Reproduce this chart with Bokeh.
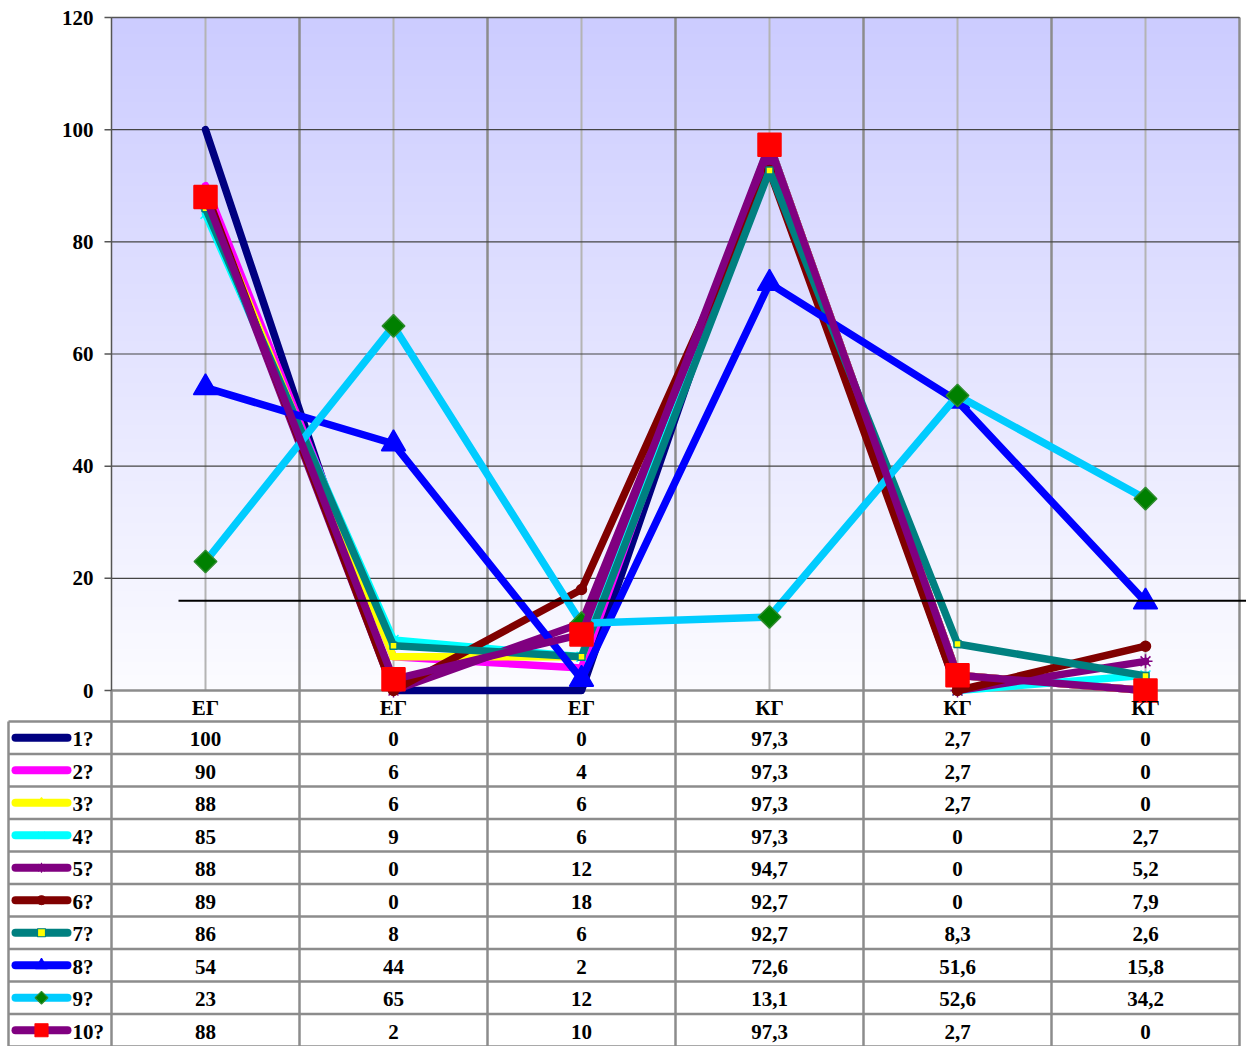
import numpy as np
from bokeh.plotting import figure
from bokeh.models import Range1d
from bokeh.embed import file_html
from bokeh.resources import INLINE
from bokeh.core.properties import value

# ---------------- data ----------------
categories = ["ЕГ", "ЕГ", "ЕГ", "КГ", "КГ", "КГ"]
series_names = ["1?", "2?", "3?", "4?", "5?", "6?", "7?", "8?", "9?", "10?"]
s1 = [100, 0, 0, 97.3, 2.7, 0]
s2 = [90, 6, 4, 97.3, 2.7, 0]
s3 = [88, 6, 6, 97.3, 2.7, 0]
s4 = [85, 9, 6, 97.3, 0, 2.7]
s5 = [88, 0, 12, 94.7, 0, 5.2]
s6 = [89, 0, 18, 92.7, 0, 7.9]
s7 = [86, 8, 6, 92.7, 8.3, 2.6]
s8 = [54, 44, 2, 72.6, 51.6, 15.8]
s9 = [23, 65, 12, 13.1, 52.6, 34.2]
s10 = [88, 2, 10, 97.3, 2.7, 0]
y_ticks = [0, 20, 40, 60, 80, 100, 120]
ref_line_value = 16

series_values = [s1, s2, s3, s4, s5, s6, s7, s8, s9, s10]

# styles
styles = [
    dict(color="#000080", marker=None),
    dict(color="#FF00FF", marker=None),
    dict(color="#FFFF00", marker="triangle", size=8, fill="#FFFF00", mline="#FFFF00", lsize=9),
    dict(color="#00FFFF", marker="x", size=14, fill="#00FFFF", mline="#00FFFF", lsize=10),
    dict(color="#800080", marker="asterisk", size=14, fill="#800080", mline="#800080", lsize=10),
    dict(color="#800000", marker="circle", size=10, fill="#800000", mline="#800000", lsize=9),
    dict(color="#008080", marker="square", size=7, fill="#FFFF00", mline="#008080", lsize=8),
    dict(color="#0000FF", marker="triangle", size=24, fill="#0000FF", mline="#0000FF", lsize=12),
    dict(color="#00CCFF", marker="square", size=16, fill="#008000", mline="#2E8B2E", lsize=9, angle=np.pi / 4),
    dict(color="#800080", marker="square", size=23, fill="#FF0000", mline="#FF0000", lsize=13),
]

FONT = value("Liberation Serif")
FSIZE = "21px"

# ---------------- layout (pixels) ----------------
W, H = 1246, 1046
frame_left_px = 111
cat_px = 188
top_px = 17
zero_px = 690
header_px = 31
row_px = 32.5
table_left_px = 8

n_cat = len(categories)
n_rows = len(series_names)
y_min, y_max = y_ticks[0], y_ticks[-1]
ppu = (zero_px - top_px) / (y_max - y_min)

xc = [i + 0.5 for i in range(n_cat)]

p = figure(width=W, height=H, output_backend="svg", toolbar_location=None,
           x_range=Range1d(-frame_left_px / cat_px, (W - frame_left_px) / cat_px),
           y_range=Range1d(y_min - (H - zero_px) / ppu, y_max + top_px / ppu),
           min_border_left=0, min_border_right=0, min_border_top=0, min_border_bottom=0)
p.axis.visible = False
p.grid.visible = False
p.outline_line_color = None
p.background_fill_color = "white"
p.border_fill_color = "white"

# gradient background of plot area
N = 256
img = np.empty((N, 1), dtype=np.uint32)
v = img.view(dtype=np.uint8).reshape((N, 1, 4))
t = np.linspace(0, 1, N)  # 0 bottom, 1 top
c_top = np.array([204, 204, 255])
c_bot = np.array([252, 252, 255])
for k in range(N):
    c = c_bot + (c_top - c_bot) * t[k]
    v[k, 0, 0] = int(c[0]); v[k, 0, 1] = int(c[1]); v[k, 0, 2] = int(c[2]); v[k, 0, 3] = 255
p.image_rgba(image=[img], x=0, y=y_min, dw=n_cat, dh=y_max - y_min)

header_h = header_px / ppu
row_h = row_px / ppu
table_top = y_min - header_h
table_bottom = table_top - n_rows * row_h
x_tbl_left = (table_left_px - frame_left_px) / cat_px

GRID = "#8c8c8c"
# vertical light gridlines at category centres
p.segment(x0=xc, y0=[y_min] * n_cat, x1=xc, y1=[y_max] * n_cat,
          line_color="#b4b4b4", line_width=2)
# vertical boundaries (plot + table)
bx = list(range(1, n_cat + 1))
p.segment(x0=bx, y0=[table_bottom] * len(bx), x1=bx, y1=[y_max] * len(bx),
          line_color=GRID, line_width=2.5)
# horizontal gridlines
gy = y_ticks[1:]
p.segment(x0=[0] * len(gy), y0=gy, x1=[n_cat] * len(gy), y1=gy,
          line_color="#444444", line_width=1.2)
# table horizontal lines
ry = [table_top - r * row_h for r in range(n_rows + 1)]
p.segment(x0=[x_tbl_left] * len(ry), y0=ry, x1=[n_cat] * len(ry), y1=ry,
          line_color=GRID, line_width=2.5)
p.segment(x0=[0], y0=[y_min], x1=[n_cat], y1=[y_min], line_color=GRID, line_width=2.5)
p.segment(x0=[x_tbl_left], y0=[table_top], x1=[x_tbl_left], y1=[table_bottom],
          line_color=GRID, line_width=2.5)
p.segment(x0=[0], y0=[table_bottom], x1=[0], y1=[y_min], line_color=GRID, line_width=2.5)
# plot top border and y axis
p.segment(x0=[0], y0=[y_max], x1=[n_cat], y1=[y_max], line_color="#555555", line_width=1.5)
p.segment(x0=[0], y0=[y_min], x1=[0], y1=[y_max], line_color="#555555", line_width=1.5)
tick_len = 7 / cat_px
p.segment(x0=[-tick_len] * len(y_ticks), y0=y_ticks, x1=[0] * len(y_ticks), y1=y_ticks,
          line_color="#555555", line_width=1.5)
p.text(x=[-(7 + 11) / cat_px] * len(y_ticks), y=y_ticks, text=[str(t_) for t_ in y_ticks],
       text_font=FONT, text_font_style="bold", text_font_size=FSIZE, text_align="right",
       text_baseline="middle", text_color="black")

# series
for vals, st in zip(series_values, styles):
    p.line(xc, vals, line_color=st["color"], line_width=7.5, line_join="round", line_cap="round")
    if st["marker"]:
        p.scatter(xc, vals, marker=st["marker"], size=st["size"], fill_color=st["fill"],
                  line_color=st["mline"], line_width=1.5, angle=st.get("angle", 0))

# reference line
p.segment(x0=[(178 - frame_left_px) / cat_px], y0=[ref_line_value],
          x1=[(W - frame_left_px) / cat_px], y1=[ref_line_value],
          line_color="black", line_width=2)

# category labels
p.text(x=xc, y=[y_min - header_h / 2 - 0.3] * n_cat, text=categories, text_font=FONT,
       text_font_style="bold", text_font_size=FSIZE, text_align="center",
       text_baseline="middle", text_color="black")


def fmt(x):
    return f"{x:g}".replace(".", ",")


lx0 = (15 - frame_left_px) / cat_px
lx1 = (67 - frame_left_px) / cat_px
lab_x = (72 - frame_left_px) / cat_px
for r, (vals, st, name) in enumerate(zip(series_values, styles, series_names)):
    yy = table_top - (r + 0.5) * row_h
    p.text(x=xc, y=[yy - 0.3] * n_cat, text=[fmt(x) for x in vals], text_font=FONT,
           text_font_style="bold", text_font_size=FSIZE, text_align="center",
           text_baseline="middle", text_color="black")
    p.line([lx0, lx1], [yy, yy], line_color=st["color"], line_width=8, line_cap="round")
    if st["marker"]:
        p.scatter([(lx0 + lx1) / 2], [yy], marker=st["marker"], size=st["lsize"],
                  fill_color=st["fill"], line_color=st["mline"], line_width=1.2,
                  angle=st.get("angle", 0))
    p.text(x=[lab_x], y=[yy - 0.3], text=[name], text_font=FONT,
           text_font_style="bold", text_font_size=FSIZE, text_align="left",
           text_baseline="middle", text_color="black")

open("out.html", "w").write(file_html(p, INLINE))
